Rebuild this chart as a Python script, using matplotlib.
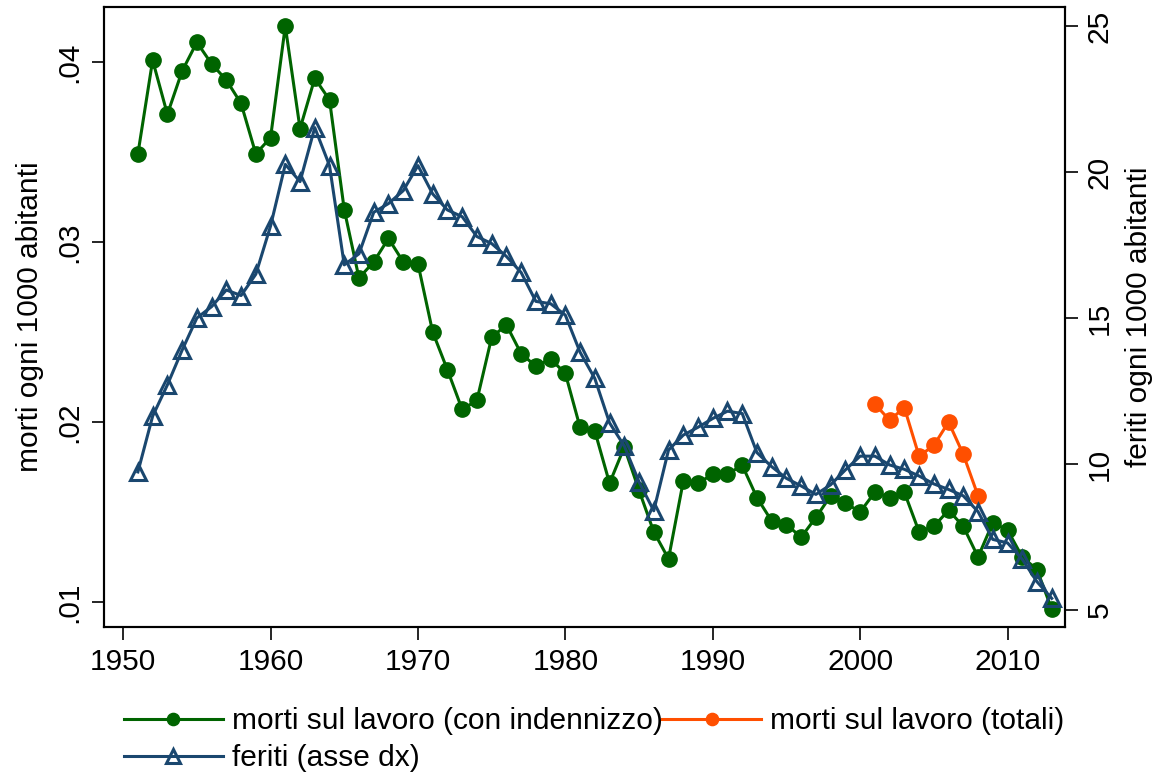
import matplotlib
matplotlib.use("Agg")
import matplotlib.pyplot as plt
import matplotlib.ticker as mticker

plt.rcParams["font.family"] = ["Liberation Sans", "DejaVu Sans"]

# --- data ---
years = list(range(1951, 2014))

morti_indennizzo = [
    .0349, .0401, .0371, .0395, .0411, .0399, .0390, .0377, .0349, .0358,
    .0420, .0363, .0391, .0379, .0318, .0280, .0289, .0302, .0289, .0288,
    .0250, .0229, .0207, .0212, .0247, .0254, .0238, .0231, .0235, .0227,
    .0197, .0195, .0166, .0186, .0162, .0139, .0124, .0167, .0166, .0171,
    .0171, .0176, .0158, .0145, .0143, .0136, .0147, .0159, .0155, .0150,
    .0161, .0158, .0161, .0139, .0142, .0151, .0142, .0125, .0144, .0140,
    .0125, .0118, .0096,
]

years_totali = list(range(2001, 2009))
morti_totali = [.0210, .0201, .0208, .0181, .0187, .0200, .0182, .0159]

feriti = [
    9.73, 11.64, 12.71, 13.90, 15.00, 15.39, 15.96, 15.77, 16.50, 18.15,
    20.26, 19.67, 21.52, 20.22, 16.82, 17.20, 18.62, 18.92, 19.36, 20.22,
    19.25, 18.70, 18.47, 17.79, 17.55, 17.11, 16.56, 15.57, 15.49, 15.10,
    13.83, 12.93, 11.41, 10.62, 9.39, 8.40, 10.48, 10.99, 11.26, 11.56,
    11.81, 11.73, 10.39, 9.91, 9.51, 9.25, 8.96, 9.29, 9.80, 10.27,
    10.27, 9.97, 9.82, 9.59, 9.32, 9.13, 8.91, 8.37, 7.42, 7.30,
    6.74, 5.97, 5.40,
]

left_ticks = [.01, .02, .03, .04]
right_ticks = [5, 10, 15, 20, 25]
x_ticks = [1950, 1960, 1970, 1980, 1990, 2000, 2010]

# --- styling ---
green = "#006400"
orange = "#ff4f00"
navy = "#1a476f"
fs = 21.5

fig = plt.figure(figsize=(11.54, 7.79), dpi=100)
ax1 = fig.add_axes([104 / 1154, 1 - 627 / 779, (1065 - 104) / 1154, (627 - 7) / 779])
ax2 = ax1.twinx()

l1, = ax1.plot(years, morti_indennizzo, color=green, lw=2.2, marker="o",
               ms=11, mec=green, mfc=green, zorder=3,
               label="morti sul lavoro (con indennizzo)")
l2, = ax1.plot(years_totali, morti_totali, color=orange, lw=2.2, marker="o",
               ms=11, mec=orange, mfc=orange, zorder=3,
               label="morti sul lavoro (totali)")
l3, = ax2.plot(years, feriti, color=navy, lw=2.2, marker="^", ms=12,
               mec=navy, mfc="none", mew=2.2, zorder=3,
               label="feriti (asse dx)")

ax1.set_xlim(1948.7, 2013.9)
ax1.set_ylim(.00861, .04306)
ax2.set_ylim(4.42, 25.65)

ax1.set_xticks(x_ticks)
ax1.set_yticks(left_ticks)
ax1.yaxis.set_major_formatter(mticker.FuncFormatter(lambda v, _p: f"{v:.2f}".lstrip("0")))
ax2.set_yticks(right_ticks)

ax1.set_ylabel("morti ogni 1000 abitanti", fontsize=fs, labelpad=8)
ax2.set_ylabel("feriti ogni 1000 abitanti", fontsize=fs, labelpad=8)

for ax in (ax1, ax2):
    ax.tick_params(axis="both", direction="out", length=9, width=1.2,
                   labelsize=fs, pad=6, color="black")
    for side in ax.spines:
        ax.spines[side].set_linewidth(1.5)
for lab in ax1.get_yticklabels():
    lab.set_rotation(90)
    lab.set_va("center")
for lab in ax2.get_yticklabels():
    lab.set_rotation(90)
    lab.set_va("center")

# legend fills column-wise, so order handles to get green/orange on row 1
fig.legend(handles=[l1, l3, l2], loc="upper left",
           bbox_to_anchor=(124 / 1154, 1 - 707 / 779), ncol=2,
           frameon=False, fontsize=fs, handlelength=3.3, handletextpad=0.3,
           columnspacing=0.0, labelspacing=0.3, borderpad=0.0,
           borderaxespad=0.0, markerscale=0.8)

fig.savefig("out.png", dpi=100, facecolor="white")
